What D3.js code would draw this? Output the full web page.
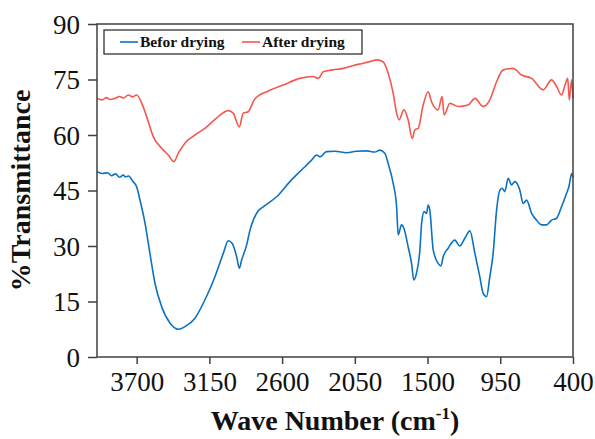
<!DOCTYPE html>
<html>
<head>
    <script src="https://cdn.jsdelivr.net/npm/d3@7/dist/d3.min.js"></script>
    <style>
        body { margin: 0; background: #fff; }
    </style>
</head>
<body>
<div id="chart"></div>

<script>

    var xTicks = [3700, 3150, 2600, 2050, 1500, 950, 400];
    var yTicks = [0, 15, 30, 45, 60, 75, 90];

    var seriesNames = ['Befor drying', 'After drying'];
    var colors = ['#0b72c2', '#f5574f'];

    // wavenumber (cm-1), % transmittance
    var beforeWave = [4000, 3960, 3920, 3890, 3860, 3830, 3800, 3788, 3760, 3730, 3700, 3675, 3637, 3600, 3562, 3511,
        3448, 3385, 3335, 3259, 3184, 3108, 3045, 3007, 2977, 2944, 2924, 2906, 2868, 2843, 2818, 2780, 2743, 2642,
        2541, 2440, 2377, 2339, 2314, 2264, 2200, 2112, 2040, 1961, 1900, 1860, 1822, 1798, 1760, 1734, 1722,
        1697, 1679, 1647, 1621, 1604, 1584, 1558, 1545, 1526, 1508, 1495, 1483, 1457, 1420, 1399, 1382, 1344,
        1294, 1256, 1218, 1180, 1142, 1105, 1079, 1054, 1029, 1004, 978, 953, 936, 916, 890, 865, 840, 802, 777,
        751, 713, 676, 638, 600, 562, 524, 487, 449, 431, 410, 400];
    var beforeValue = [50.1, 49.6, 49.8, 49.0, 49.5, 48.6, 49.2, 48.7, 48.9, 47.5, 46.0, 42.4, 36.2, 28.1, 20.0, 13.6,
        9.2, 7.5, 8.2, 10.5, 15.4, 21.7, 28.0, 31.4, 30.7, 27.1, 24.0, 26.2, 30.3, 34.3, 37.0, 39.5, 40.6, 43.3,
        47.4, 51.0, 53.2, 54.6, 54.1, 55.5, 55.6, 55.2, 55.6, 55.7, 55.4, 55.9, 55.0, 52.3, 46.9, 40.6, 33.0,
        35.7, 34.8, 29.8, 25.3, 20.8, 22.6, 28.9, 36.1, 39.3, 38.8, 41.1, 39.7, 28.9, 25.3, 24.6, 27.1, 29.4,
        31.6, 30.0, 32.1, 34.1, 28.0, 21.7, 17.2, 16.3, 21.7, 28.0, 39.7, 45.1, 45.6, 44.7, 48.3, 46.5, 47.4, 45.1, 41.5,
        42.4, 38.8, 37.0, 35.7, 35.7, 37.0, 37.5, 40.6, 44.2, 46.0, 49.6, 48.5];

    var afterWave = [4000, 3960, 3930, 3900, 3864, 3830, 3800, 3763, 3730, 3700, 3662, 3624, 3574, 3511, 3461, 3418,
        3385, 3335, 3259, 3184, 3108, 3007, 2970, 2924, 2894, 2856, 2811, 2780, 2717, 2592, 2465, 2365, 2327, 2289,
        2220, 2138, 2060, 1987, 1930, 1886, 1836, 1798, 1760, 1734, 1715, 1679, 1647, 1616, 1596, 1571, 1533,
        1495, 1470, 1420, 1390, 1375, 1331, 1268, 1193, 1142, 1079, 1029, 978, 928, 853, 789, 713, 626, 562, 524,
        487, 460, 440, 428, 410, 400];
    var afterValue = [69.9, 69.5, 70.1, 69.6, 69.9, 70.4, 70.0, 70.8, 70.3, 70.8, 68.6, 64.9, 59.5, 56.4, 54.6, 52.8,
        55.1, 57.8, 60.0, 61.8, 64.2, 66.6, 65.9, 62.2, 65.9, 66.3, 69.5, 70.6, 71.7, 73.5, 75.3, 75.8, 75.3, 77.1,
        77.6, 78.0, 78.8, 79.4, 79.9, 80.3, 79.8, 76.7, 71.3, 65.9, 64.1, 66.8, 64.1, 59.1, 61.4, 61.8, 68.1,
        71.7, 69.0, 66.8, 70.4, 65.4, 68.6, 67.7, 68.1, 69.9, 67.7, 69.5, 74.4, 77.6, 78.0, 76.2, 75.3, 72.2, 74.9, 73.1,
        70.8, 73.5, 75.3, 69.5, 74.9, 70.0];

    var width = 595;
    var height = 439;
    var margin = { top: 24, right: 22, bottom: 82, left: 97 };
    var innerW = width - margin.left - margin.right;
    var innerH = height - margin.top - margin.bottom;

    var svg = d3.select('#chart').append('svg')
        .attr('width', width)
        .attr('height', height)
        .style('font-family', '"Liberation Serif", "Times New Roman", serif');

    var g = svg.append('g')
        .attr('transform', 'translate(' + margin.left + ',' + margin.top + ')');

    var x = d3.scaleLinear().domain([4000, 400]).range([0, innerW]);
    var y = d3.scaleLinear().domain([0, 90]).range([innerH, 0]);

    var series = [
        { name: seriesNames[0], wave: beforeWave, value: beforeValue },
        { name: seriesNames[1], wave: afterWave, value: afterValue }
    ];

    var line = d3.line()
        .x(function(d) { return x(d[0]); })
        .y(function(d) { return y(d[1]); })
        .curve(d3.curveMonotoneX);

    g.selectAll('path.series')
        .data(series)
        .enter()
        .append('path')
        .attr('class', 'series')
        .attr('fill', 'none')
        .attr('stroke', function(d, i) { return colors[i]; })
        .attr('stroke-width', 1.6)
        .attr('d', function(d) { return line(d3.zip(d.wave, d.value)); });

    // frame
    g.append('rect')
        .attr('width', innerW)
        .attr('height', innerH)
        .attr('fill', 'none')
        .attr('stroke', '#404040')
        .attr('stroke-width', 1.5);

    var xAxis = g.append('g')
        .attr('transform', 'translate(0,' + innerH + ')')
        .call(d3.axisBottom(x).tickValues(xTicks).tickSize(7).tickPadding(8).tickFormat(d3.format('d')));

    var yAxis = g.append('g')
        .call(d3.axisLeft(y).tickValues(yTicks).tickSize(9).tickPadding(8));

    [xAxis, yAxis].forEach(function(a) {
        a.select('.domain').remove();
        a.selectAll('line').attr('stroke', '#404040').attr('stroke-width', 1.5);
        a.selectAll('text')
            .attr('fill', '#111')
            .attr('font-size', 27)
            .attr('font-family', '"Liberation Serif", serif');
    });
    yAxis.selectAll('text').attr('dy', '0.34em');

    // axis titles
    var xTitle = svg.append('text')
        .attr('x', margin.left + innerW / 2)
        .attr('y', 430)
        .attr('text-anchor', 'middle')
        .attr('font-size', 28)
        .attr('font-weight', 'bold')
        .attr('fill', '#111');
    xTitle.append('tspan').text('Wave Number (cm');
    xTitle.append('tspan').attr('dy', -11).attr('font-size', 17).text('-1');
    xTitle.append('tspan').attr('dy', 11).text(')');

    svg.append('text')
        .attr('transform', 'translate(30,' + (margin.top + innerH / 2) + ') rotate(-90)')
        .attr('text-anchor', 'middle')
        .attr('font-size', 28)
        .attr('font-weight', 'bold')
        .attr('fill', '#111')
        .text('%Transmittance');

    // legend
    var legend = svg.append('g').attr('transform', 'translate(104,30)');
    legend.append('rect')
        .attr('width', 258)
        .attr('height', 24)
        .attr('fill', '#fff')
        .attr('stroke', '#222')
        .attr('stroke-width', 1.2);

    var entries = legend.selectAll('g.entry')
        .data(seriesNames)
        .enter()
        .append('g')
        .attr('class', 'entry')
        .attr('transform', function(d, i) { return 'translate(' + (16 + i * 122) + ',12)'; });

    entries.append('line')
        .attr('x1', 0).attr('x2', 18)
        .attr('stroke', function(d, i) { return colors[i]; })
        .attr('stroke-width', 1.6);

    entries.append('text')
        .attr('x', 20)
        .attr('dy', '0.35em')
        .attr('font-size', 15.5)
        .attr('font-weight', 'bold')
        .attr('fill', '#111')
        .text(function(d) { return d; });

</script>
</body>
</html>
